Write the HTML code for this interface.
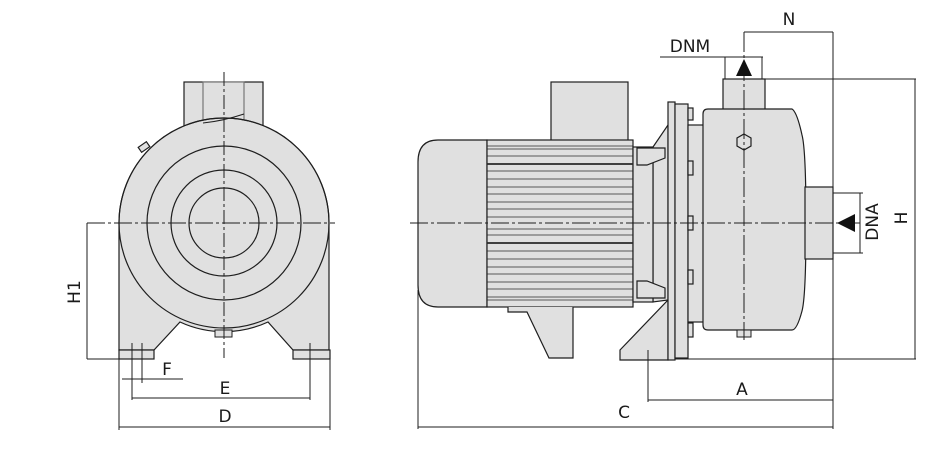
<!DOCTYPE html>
<html><head><meta charset="utf-8"><style>
html,body{margin:0;padding:0;background:#fff;}
svg{display:block;}
text{font-family:"DejaVu Sans","Liberation Sans",sans-serif;font-size:17px;fill:#1a1a1a;}
</style></head><body>
<svg width="941" height="460" viewBox="0 0 941 460" xmlns="http://www.w3.org/2000/svg">
<g stroke="#1e1e1e" stroke-width="1.2" fill="#e0e0e0">
<!-- LEFT VIEW -->
<rect x="184" y="82" width="79" height="45"/>
<rect x="203" y="82" width="41" height="40" stroke="#777"/>
<path d="M119,223 A105,105 0 0 1 329,223 L329,350 L293,350 L268,322 A105,105 0 0 1 180,322 L154,350 L119,350 Z"/>
<circle cx="224" cy="223" r="105" fill="none"/>
<path d="M203,123 Q223,121 244,114" fill="none" stroke-width="1"/>
<circle cx="224" cy="223" r="77" fill="none"/>
<circle cx="224" cy="223" r="53" fill="none"/>
<circle cx="224" cy="223" r="35" fill="none"/>
<rect x="119" y="350" width="35" height="9"/>
<rect x="293" y="350" width="37" height="9"/>
<rect x="215" y="330" width="17" height="7" stroke-width="1"/>
<rect x="139" y="144" width="10" height="6" transform="rotate(-35 144 147)"/>
</g>
<g stroke="#1e1e1e" stroke-width="1" fill="none">
<line x1="224" y1="72" x2="224" y2="358" stroke-dasharray="14,3,3,3"/>
<line x1="87" y1="223" x2="335" y2="223" stroke-dasharray="18,3,3,3"/>
<line x1="87" y1="223" x2="87" y2="359"/>
<line x1="87" y1="359" x2="119" y2="359"/>
<line x1="132" y1="343" x2="132" y2="400"/>
<line x1="142" y1="343" x2="142" y2="383"/>
<line x1="122" y1="379" x2="183" y2="379"/>
<line x1="132" y1="398" x2="310" y2="398"/>
<line x1="310" y1="343" x2="310" y2="400"/>
<line x1="119" y1="359" x2="119" y2="430"/>
<line x1="330" y1="359" x2="330" y2="430"/>
<line x1="119" y1="427" x2="330" y2="427"/>
</g>
<text x="80" y="292" transform="rotate(-90 80 292)" text-anchor="middle">H1</text>
<text x="167" y="375" text-anchor="middle">F</text>
<text x="225" y="394" text-anchor="middle">E</text>
<text x="225" y="422" text-anchor="middle">D</text>

<!-- RIGHT VIEW -->
<g stroke="#1e1e1e" stroke-width="1.2" fill="#e0e0e0">
<rect x="551" y="82" width="77" height="60"/>
<path d="M487,140 L438,140 Q418,140 418,162 L418,285 Q418,307 438,307 L487,307 Z"/>
<rect x="487" y="140" width="146" height="167"/>
<path d="M508,307 L508,312 L527,312 L549,358 L573,358 L573,307" />
<path d="M653,147 L668,125 L668,300 L653,302 Z"/>
<rect x="633" y="147" width="20" height="155"/>
<path d="M637,148 L665,148 L665,158 L647,165 L637,165 Z"/>
<path d="M637,281 L647,281 L665,288 L665,298 L637,298 Z"/>
<path d="M620,350 L668,300 L668,360 L620,360 Z"/>
<rect x="668" y="102" width="7" height="258"/>
<rect x="675" y="104" width="13" height="254"/>
<rect x="688" y="125" width="16" height="197"/>
<rect x="723" y="79" width="42" height="32"/>
<path d="M708,109 L792,109 Q797,112 802,135 Q806,150 806,223 Q806,296 802,311 Q797,330 792,330 L708,330 Q703,330 703,325 L703,114 Q703,109 708,109 Z"/>
<rect x="805" y="187" width="28" height="72"/>
<rect x="688" y="108" width="5" height="12"/>
<rect x="688" y="161" width="5" height="14"/>
<rect x="688" y="216" width="5" height="14"/>
<rect x="688" y="270" width="5" height="14"/>
<rect x="688" y="323" width="5" height="14"/>
<rect x="737" y="330" width="14" height="7" stroke-width="1"/>
<path d="M744,134 L751,138 L751,146 L744,150 L737,146 L737,138 Z"/>
</g>
<g stroke="#2a2a2a" stroke-width="0.8">
<line x1="487" y1="146" x2="633" y2="146"/><line x1="487" y1="149" x2="633" y2="149"/>
<line x1="487" y1="156" x2="633" y2="156"/>
<line x1="487" y1="164" x2="633" y2="164" stroke-width="1.8"/>
<line x1="487" y1="171" x2="633" y2="171"/>
<line x1="487" y1="179" x2="633" y2="179"/>
<line x1="487" y1="187" x2="633" y2="187"/>
<line x1="487" y1="194" x2="633" y2="194"/>
<line x1="487" y1="202" x2="633" y2="202"/>
<line x1="487" y1="209" x2="633" y2="209"/>
<line x1="487" y1="217" x2="633" y2="217"/>
<line x1="487" y1="229" x2="633" y2="229"/>
<line x1="487" y1="235" x2="633" y2="235"/>
<line x1="487" y1="243" x2="633" y2="243" stroke-width="1.8"/>
<line x1="487" y1="251" x2="633" y2="251"/>
<line x1="487" y1="259" x2="633" y2="259"/>
<line x1="487" y1="267" x2="633" y2="267"/>
<line x1="487" y1="274" x2="633" y2="274"/>
<line x1="487" y1="282" x2="633" y2="282"/>
<line x1="487" y1="289" x2="633" y2="289"/>
<line x1="487" y1="297" x2="633" y2="297"/><line x1="487" y1="300" x2="633" y2="300"/>
</g>
<g stroke="#1e1e1e" stroke-width="1" fill="none">
<line x1="410" y1="223" x2="860" y2="223" stroke-dasharray="18,3,3,3"/>
<line x1="744" y1="32" x2="744" y2="340" stroke-dasharray="20,3,3,3"/>
<line x1="418" y1="290" x2="418" y2="429"/>
<line x1="418" y1="427" x2="833" y2="427"/>
<line x1="833" y1="32" x2="833" y2="429"/>
<line x1="744" y1="32" x2="833" y2="32"/>
<line x1="660" y1="57" x2="763" y2="57"/>
<line x1="725" y1="57" x2="725" y2="79"/>
<line x1="762" y1="57" x2="762" y2="79"/>
<line x1="765" y1="79" x2="916" y2="79"/>
<line x1="675" y1="359" x2="916" y2="359"/>
<line x1="915" y1="79" x2="915" y2="359"/>
<line x1="833" y1="193" x2="863" y2="193"/>
<line x1="833" y1="253" x2="863" y2="253"/>
<line x1="860" y1="193" x2="860" y2="253"/>
<line x1="648" y1="350" x2="648" y2="402"/>
<line x1="648" y1="400" x2="833" y2="400"/>
</g>
<path d="M744,59 L752,76 L736,76 Z" fill="#111"/>
<path d="M837,223 L855,214 L855,232 Z" fill="#111"/>
<text x="789" y="25" text-anchor="middle">N</text>
<text x="690" y="52" text-anchor="middle">DNM</text>
<text x="878" y="222" transform="rotate(-90 878 222)" text-anchor="middle">DNA</text>
<text x="907" y="218" transform="rotate(-90 907 218)" text-anchor="middle">H</text>
<text x="742" y="395" text-anchor="middle">A</text>
<text x="624" y="418" text-anchor="middle">C</text>
</svg>
</body></html>
